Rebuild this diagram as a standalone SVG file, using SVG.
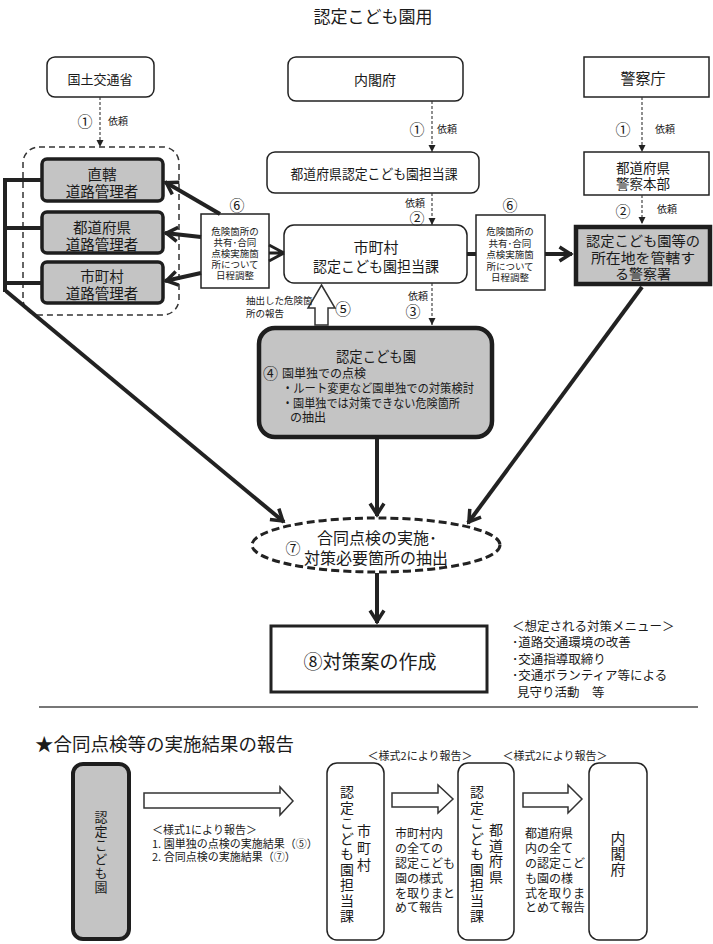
<svg xmlns="http://www.w3.org/2000/svg" width="713" height="944" viewBox="0 0 713 944">
<defs>
<style>
text{font-family:"Noto Sans CJK JP","Noto Sans CJK SC",sans-serif;fill:#1a1a1a;dominant-baseline:central;}
.c{text-anchor:middle;}
.box{fill:#fff;stroke:#222;stroke-width:1.5;}
.gray{fill:#c4c4c4;stroke:#1e1e1e;}
.thick{fill:none;stroke:#222;stroke-width:4;}
.dash{fill:none;stroke:#333;stroke-width:1.1;stroke-dasharray:3 2;}
.hollow{fill:#fff;stroke:#333;stroke-width:1.5;stroke-linejoin:miter;}
.num{font-size:15px;}
.req{font-size:10px;}
.s6{font-size:9.5px;}
.p{font-size:12px;}
.v{font-size:14px;writing-mode:vertical-rl;text-anchor:start;}
</style>
<marker id="chev" viewBox="-15 -10 18 20" markerWidth="18" markerHeight="20" refX="1.5" refY="0" orient="auto" markerUnits="userSpaceOnUse">
<path d="M-11,-7 L0,0 L-11,7" fill="none" stroke="#222" stroke-width="3.5"/>
</marker>
<marker id="tri" viewBox="-8 -5 9 10" markerWidth="9" markerHeight="10" refX="0" refY="0" orient="auto" markerUnits="userSpaceOnUse">
<path d="M-7,-3.5 L0,0 L-7,3.5 Z" fill="#222"/>
</marker>
</defs>
<rect width="713" height="944" fill="#fff"/>

<text id="title" class="c" x="373" y="15" style="font-size:17px">認定こども園用</text>

<g id="group-road">
<rect x="23" y="147" width="156" height="168" rx="16" fill="none" stroke="#333" stroke-width="1.5" stroke-dasharray="6 4"/>
</g>

<g id="mlit">
<rect class="box" x="47" y="57" width="107" height="40" rx="8"/>
<text class="c" x="100" y="78" style="font-size:13px">国土交通省</text>
</g>

<g id="cao">
<rect class="box" x="288" y="57" width="175" height="44" rx="8"/>
<text class="c" x="375" y="79" style="font-size:14px">内閣府</text>
</g>

<g id="npa">
<rect class="box" x="584" y="57" width="125" height="40"/>
<text class="c" x="643" y="77" style="font-size:15px">警察庁</text>
</g>

<g id="mgr-direct">
<rect class="gray" x="42" y="159" width="121" height="42" rx="5" stroke-width="3.5"/>
<text class="c" x="102" y="173" style="font-size:14.5px">直轄</text>
<text class="c" x="102" y="190" style="font-size:14.5px">道路管理者</text>
</g>

<g id="mgr-pref">
<rect class="gray" x="42" y="212" width="121" height="41" rx="5" stroke-width="3.5"/>
<text class="c" x="102" y="226" style="font-size:14.5px">都道府県</text>
<text class="c" x="102" y="243" style="font-size:14.5px">道路管理者</text>
</g>

<g id="mgr-muni">
<rect class="gray" x="42" y="262" width="121" height="41" rx="5" stroke-width="3.5"/>
<text class="c" x="102" y="275" style="font-size:14.5px">市町村</text>
<text class="c" x="102" y="292" style="font-size:14.5px">道路管理者</text>
</g>

<g id="pref-dept">
<rect class="box" x="267" y="152" width="212" height="41" rx="8"/>
<text class="c" x="374" y="173" style="font-size:13.5px" textLength="167" lengthAdjust="spacingAndGlyphs">都道府県認定こども園担当課</text>
</g>

<g id="pref-police">
<rect class="box" x="584" y="152" width="125" height="43"/>
<text class="c" x="643" y="167" style="font-size:13.5px">都道府県</text>
<text class="c" x="643" y="183" style="font-size:13.5px">警察本部</text>
</g>

<g id="muni-dept">
<rect class="box" x="284" y="225" width="183" height="58" rx="10"/>
<text class="c" x="376" y="246" style="font-size:15px">市町村</text>
<text class="c" x="376" y="265" style="font-size:15px" textLength="126" lengthAdjust="spacingAndGlyphs">認定こども園担当課</text>
</g>

<g id="coord-left">
<text class="c num" x="237" y="204">⑥</text>
<rect class="box" x="201" y="214" width="68" height="74"/>
<text class="c s6" x="235" y="231">危険箇所の</text>
<text class="c s6" x="235" y="242">共有･合同</text>
<text class="c s6" x="235" y="253">点検実施箇</text>
<text class="c s6" x="235" y="264">所について</text>
<text class="c s6" x="235" y="275">日程調整</text>
</g>

<g id="coord-right">
<text class="c num" x="510" y="204">⑥</text>
<rect class="box" x="476" y="215" width="69" height="75"/>
<text class="c s6" x="510" y="231">危険箇所の</text>
<text class="c s6" x="510" y="242.5">共有･合同</text>
<text class="c s6" x="510" y="254">点検実施箇</text>
<text class="c s6" x="510" y="265.5">所について</text>
<text class="c s6" x="510" y="277">日程調整</text>
</g>

<g id="police-station">
<rect class="gray" x="576" y="227" width="134" height="57" stroke-width="4.5"/>
<text class="c" x="643" y="239.5" style="font-size:14px" textLength="114" lengthAdjust="spacingAndGlyphs">認定こども園等の</text>
<text class="c" x="643" y="256.5" style="font-size:14px" textLength="104" lengthAdjust="spacingAndGlyphs">所在地を管轄す</text>
<text class="c" x="643" y="273" style="font-size:14px">る警察署</text>
</g>

<g id="report-up">
<path class="hollow" d="M321.5,285 L335,308 L328,308 L328,325 L315,325 L315,308 L308,308 Z"/>
<text x="246" y="300" class="s6">抽出した危険箇</text>
<text x="246" y="313" class="s6">所の報告</text>
<text class="c" x="343" y="308" style="font-size:16px">⑤</text>
</g>

<g id="kodomoen">
<rect class="gray" x="259" y="328" width="233" height="109" rx="16" stroke-width="4.5"/>
<text class="c" x="376" y="355" style="font-size:14.5px" textLength="80" lengthAdjust="spacingAndGlyphs">認定こども園</text>
<text x="263" y="372" style="font-size:15px">④</text>
<text x="282" y="372" style="font-size:12.5px" textLength="84" lengthAdjust="spacingAndGlyphs">園単独での点検</text>
<text x="282" y="387" style="font-size:12.5px" textLength="192" lengthAdjust="spacingAndGlyphs">・ルート変更など園単独での対策検討</text>
<text x="282" y="402" style="font-size:12.5px" textLength="178" lengthAdjust="spacingAndGlyphs">・園単独では対策できない危険箇所</text>
<text x="290" y="416" style="font-size:12.5px" textLength="36" lengthAdjust="spacingAndGlyphs">の抽出</text>
</g>

<g id="joint-check">
<ellipse cx="376" cy="545" rx="124" ry="27" fill="#fff" stroke="#222" stroke-width="3" stroke-dasharray="8 4"/>
<text class="c" x="293" y="547" style="font-size:15px">⑦</text>
<text class="c" x="377" y="537" style="font-size:16px">合同点検の実施･</text>
<text class="c" x="376" y="557" style="font-size:16px">対策必要箇所の抽出</text>
</g>

<g id="plan">
<rect x="271" y="626" width="216" height="66" fill="#fff" stroke="#222" stroke-width="3"/>
<text class="c" x="370" y="660" style="font-size:19px">⑧対策案の作成</text>
</g>

<g id="menu">
<text x="512" y="625" style="font-size:12.5px">＜想定される対策メニュー＞</text>
<text x="512" y="641.5" style="font-size:12.5px">･道路交通環境の改善</text>
<text x="512" y="658" style="font-size:12.5px">･交通指導取締り</text>
<text x="512" y="674.5" style="font-size:12.5px">･交通ボランティア等による</text>
<text x="517" y="691" style="font-size:12.5px">見守り活動　等</text>
</g>

<line x1="39" y1="707" x2="698" y2="707" stroke="#777" stroke-width="2"/>

<text id="section-title" x="35" y="743" style="font-size:18.5px">★合同点検等の実施結果の報告</text>

<g id="b-kodomoen">
<rect class="gray" x="73" y="764" width="56" height="175" rx="10" stroke-width="4"/>
<text class="v" x="101" y="810.5" style="font-size:13px;letter-spacing:1px">認定こども園</text>
</g>

<g id="b-arrow1">
<path class="hollow" d="M144,793 L280,793 L280,787 L293,801 L280,815 L280,808 L144,808 Z"/>
<text x="152" y="829" style="font-size:11px">＜様式1により報告＞</text>
<text x="152" y="843" style="font-size:11px">1. 園単独の点検の実施結果（⑤）</text>
<text x="152" y="856" style="font-size:11px">2. 合同点検の実施結果（⑦）</text>
</g>

<g id="b-muni">
<rect class="box" x="327" y="763" width="57" height="177" rx="10"/>
<text class="v" x="347" y="785" style="letter-spacing:1.5px">認定こども園担当課</text>
<text class="v" x="364" y="824" style="letter-spacing:3px">市町村</text>
</g>

<g id="b-arrow2">
<text class="c" x="420" y="755" style="font-size:11px">＜様式2により報告＞</text>
<path class="hollow" d="M392,793 L438,793 L438,785 L453,799 L438,813 L438,807 L392,807 Z"/>
<text class="p" x="395" y="832">市町村内</text>
<text class="p" x="395" y="847">の全ての</text>
<text class="p" x="395" y="862">認定こども</text>
<text class="p" x="395" y="877">園の様式</text>
<text class="p" x="395" y="892">を取りまと</text>
<text class="p" x="395" y="906">めて報告</text>
</g>

<g id="b-pref">
<rect class="box" x="458" y="763" width="56" height="177" rx="10"/>
<text class="v" x="477" y="785" style="letter-spacing:1.5px">認定こども園担当課</text>
<text class="v" x="496" y="823" style="letter-spacing:1.5px">都道府県</text>
</g>

<g id="b-arrow3">
<text class="c" x="555" y="755" style="font-size:11px">＜様式2により報告＞</text>
<path class="hollow" d="M523,793 L568,793 L568,785 L582,799 L568,813 L568,807 L523,807 Z"/>
<text class="p" x="525" y="832">都道府県</text>
<text class="p" x="525" y="847">内の全て</text>
<text class="p" x="525" y="862">の認定こど</text>
<text class="p" x="525" y="877">も園の様</text>
<text class="p" x="525" y="892">式を取りま</text>
<text class="p" x="525" y="906">とめて報告</text>
</g>

<g id="b-cao">
<rect class="box" x="589" y="763" width="58" height="177" rx="10"/>
<text class="v" x="618" y="830.5" style="font-size:15px;letter-spacing:0.5px">内閣府</text>
</g>

<g id="connectors">
<line class="dash" x1="100" y1="97" x2="100" y2="147" marker-end="url(#tri)"/>
<text class="c num" x="85" y="120">①</text>
<text class="c req" x="118" y="120">依頼</text>

<line class="dash" x1="432" y1="101" x2="432" y2="152" marker-end="url(#tri)"/>
<text class="c num" x="417" y="128">①</text>
<text class="c req" x="447" y="128">依頼</text>

<line class="dash" x1="642" y1="97" x2="642" y2="152" marker-end="url(#tri)"/>
<text class="c num" x="623" y="128">①</text>
<text class="c req" x="665" y="128">依頼</text>

<line class="dash" x1="432" y1="193" x2="432" y2="225" marker-end="url(#tri)"/>
<text class="c req" x="415" y="202">依頼</text>
<text class="c num" x="417" y="217">②</text>

<line class="dash" x1="642" y1="195" x2="642" y2="224" marker-end="url(#tri)"/>
<text class="c num" x="623" y="210">②</text>
<text class="c req" x="667" y="208">依頼</text>

<line class="dash" x1="432" y1="283" x2="432" y2="325" marker-end="url(#tri)"/>
<text class="c req" x="418" y="295">依頼</text>
<text class="c num" x="413" y="310">③</text>

<path class="thick" d="M467,254 L476,254"/>
<path class="thick" d="M545,254 L572,254" marker-end="url(#chev)"/>

<path d="M284,253 L269,245 M284,253 L269,253 M284,253 L269,261" fill="none" stroke="#222" stroke-width="3"/>
<path class="thick" d="M220,214 L165,182" marker-end="url(#chev)"/>
<path class="thick" d="M201,237 L165,233" marker-end="url(#chev)"/>
<path class="thick" d="M201,273 L165,281" marker-end="url(#chev)"/>

<path class="thick" d="M5,178 L5,292"/>
<path class="thick" d="M5,180 L42,180 M5,228 L42,228 M5,283 L42,283"/>
<path class="thick" d="M6,291 L284,522" marker-end="url(#chev)"/>
<path class="thick" d="M642,287 L468,523" marker-end="url(#chev)"/>
<path class="thick" d="M377,439 L377,516" marker-end="url(#chev)"/>
<path class="thick" d="M377,573 L377,623" marker-end="url(#chev)"/>
</g>
</svg>
